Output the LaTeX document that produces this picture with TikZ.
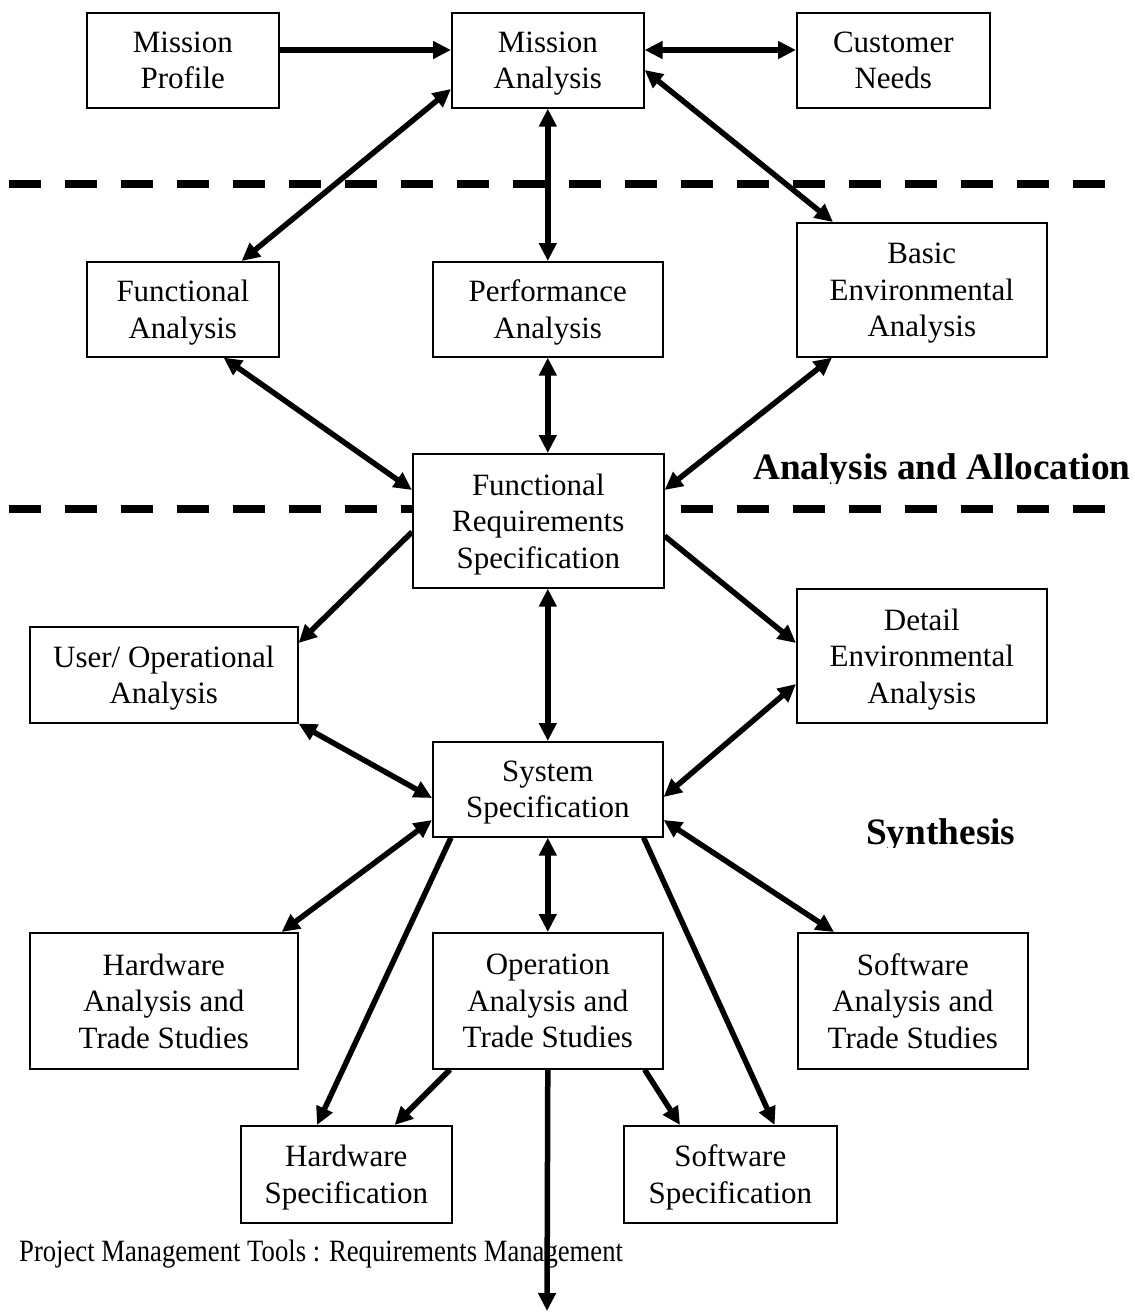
\documentclass[tikz,border=0pt]{standalone}
\usepackage{fontspec}
\setmainfont{Liberation Serif}
\newfontfamily\capfont[FakeStretch=0.86]{Liberation Serif}
\usetikzlibrary{arrows.meta}
\begin{document}
\begin{tikzpicture}[x=1pt,y=-1pt,
  box/.style={draw, fill=white, line width=1.6pt, align=center, inner sep=0pt,
    text depth=0pt, anchor=north west, font=\fontsize{31}{36.5}\selectfont},
  tip/.tip={Triangle[length=18pt,width=17pt]},
  link/.style={line width=5.5pt, -tip},
  both/.style={line width=5.5pt, tip-tip},
  divider/.style={line width=8pt, dash pattern=on 32pt off 24pt},
  heading/.style={anchor=base west, inner sep=0pt, font=\fontsize{37.3}{40}\selectfont\bfseries}]
\useasboundingbox (0,0) rectangle (1135,1312);

% phase dividers
\draw[divider] (9,184) -- (1105,184);
\draw[divider] (9,509) -- (1105,509);

% phase headings (text frames trim the descenders)
\begin{scope}
  \clip (700,430) rectangle (1135,483);
  \node[heading] (lalloc) at (753,479) {Analysis and Allocation};
\end{scope}
\begin{scope}
  \clip (800,800) rectangle (1135,847);
  \node[heading] (lsynth) at (866,844) {Synthesis};
\end{scope}

% boxes
\node[box, minimum width=192pt, minimum height=95pt]  (mp)  at (86,12)   {Mission\\Profile};
\node[box, minimum width=192pt, minimum height=95pt]  (ma)  at (451,12)  {Mission\\Analysis};
\node[box, minimum width=193pt, minimum height=95pt]  (cn)  at (796,12)  {Customer\\Needs};
\node[box, minimum width=192pt, minimum height=95pt]  (fa)  at (86,261)  {Functional\\Analysis};
\node[box, minimum width=230pt, minimum height=95pt]  (pa)  at (432,261) {Performance\\Analysis};
\node[box, minimum width=250pt, minimum height=134pt] (bea) at (796,222) {Basic\\Environmental\\Analysis};
\node[box, minimum width=251pt, minimum height=134pt] (frs) at (412,453) {Functional\\Requirements\\Specification};
\node[box, minimum width=268pt, minimum height=96pt]  (uoa) at (29,626)  {User/ Operational\\Analysis};
\node[box, minimum width=250pt, minimum height=134pt] (dea) at (796,588) {Detail\\Environmental\\Analysis};
\node[box, minimum width=230pt, minimum height=95pt]  (ss)  at (432,741) {System\\Specification};
\node[box, minimum width=268pt, minimum height=136pt] (hat) at (29,932)  {Hardware\\Analysis and\\Trade Studies};
\node[box, minimum width=230pt, minimum height=136pt] (oat) at (432,932) {Operation\\Analysis and\\Trade Studies};
\node[box, minimum width=230pt, minimum height=136pt] (sat) at (797,932) {Software\\Analysis and\\Trade Studies};
\node[box, minimum width=211pt, minimum height=97pt]  (hs)  at (240,1125) {Hardware\\Specification};
\node[box, minimum width=213pt, minimum height=97pt]  (sws) at (623,1125) {Software\\Specification};

% caption
\node[anchor=base west, inner sep=0pt, font=\capfont\fontsize{31}{31}\selectfont] (cap) at (19,1261)
  {Project Management Tools : Requirements Management};

\coordinate (out) at (547,1311);

% connectors
\draw[link] ([yshift=-38pt]mp.north east) -- ([yshift=-38pt]ma.north west);
\draw[both] ([yshift=-38pt]ma.north east) -- ([yshift=-38pt]cn.north west);
\draw[both] ([yshift=-77pt]ma.north west) -- ([xshift=-38pt]fa.north east);
\draw[both] (ma.south) -- (pa.north);
\draw[both] ([yshift=-58pt]ma.north east) -- ([xshift=37pt]bea.north west);

\draw[both] ([xshift=-56pt]fa.south east) -- ([yshift=-37pt]frs.north west);
\draw[both] (pa.south) -- (pa.south |- frs.north);
\draw[both] ([xshift=36pt]bea.south west) -- ([yshift=-37pt]frs.north east);

\draw[link] ([yshift=-79pt]frs.north west) -- ([yshift=-17pt]uoa.north east);
\draw[link] ([yshift=-83pt]frs.north east) -- ([yshift=-55pt]dea.north west);
\draw[both] (ss.north |- frs.south) -- (ss.north);

\draw[both] (uoa.south east) -- ([yshift=-57pt]ss.north west);
\draw[both] ([yshift=-96pt]dea.north west) -- ([yshift=-56pt]ss.north east);

\draw[both] ([yshift=-79pt]ss.north west) -- ([xshift=-17pt]hat.north east);
\draw[both] (ss.south) -- (oat.north);
\draw[both] ([yshift=-79pt]ss.north east) -- ([xshift=37pt]sat.north west);

\draw[link] ([xshift=19pt]ss.south west) -- ([xshift=77pt]hs.north west);
\draw[link] ([xshift=-20pt]ss.south east) -- ([xshift=-63pt]sws.north east);
\draw[link] ([xshift=18pt]oat.south west) -- ([xshift=-58pt]hs.north east);
\draw[link] ([xshift=-19pt]oat.south east) -- ([xshift=57pt]sws.north west);
\draw[link] (oat.south) -- (out);
\end{tikzpicture}
\end{document}
